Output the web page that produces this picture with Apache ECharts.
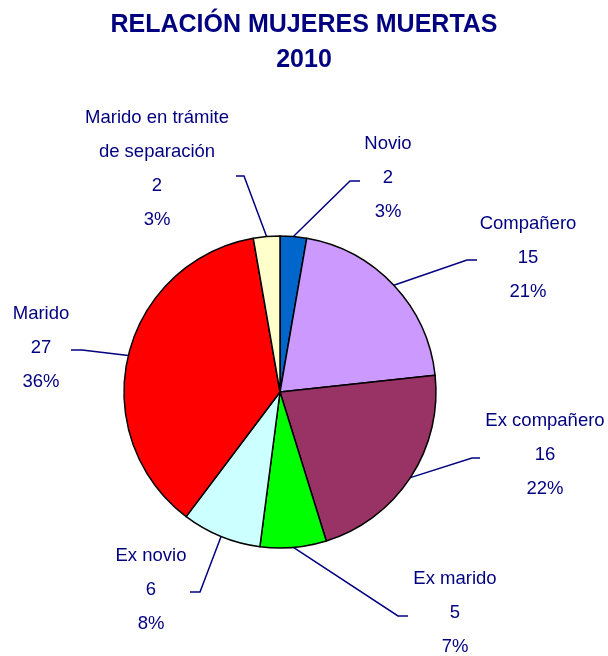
<!DOCTYPE html>
<html>
<head>
<meta charset="utf-8">
<script src="https://cdn.jsdelivr.net/npm/echarts@6/dist/echarts.min.js"></script>
<style>
  html, body { margin: 0; padding: 0; background: #fff; }
  #chart { width: 608px; height: 656px; }
</style>
</head>
<body>
<div id="chart"></div>
<script>
// relación con el agresor, 2010
const categorias = ['Novio', 'Compañero', 'Ex compañero', 'Ex marido', 'Ex novio', 'Marido', 'Marido en trámite\nde separación'];
const muertes = [2, 15, 16, 5, 6, 27, 2];
const porcentajes = [3, 21, 22, 7, 8, 36, 3];
const colores = ['#0066CC', '#CC99FF', '#993366', '#00FF00', '#CCFFFF', '#FF0000', '#FFFFCC'];

// posición de cada etiqueta: [x centro, y centro, codo x, codo y, fin x]
const anclas = [
  [388, 178, 350, 181, 360],
  [528, 258, 467, 260, 477],
  [545, 455, 472, 458, 480],
  [455, 613, 398, 616, 408],
  [151, 590, 200, 592, 190],
  [41, 348, 82, 350, 71],
  [157, 169, 244, 176, 236],
];

function renderChart() {
  const dom = document.getElementById('chart');
  const chart = echarts.init(dom);
  const font = "'Liberation Sans Narrow', 'Arial Narrow', 'Liberation Sans', sans-serif";
  const option = {
    animation: false,
    title: {
      text: 'RELACIÓN MUJERES MUERTAS\n2010',
      left: 'center',
      top: 3,
      textStyle: {
        color: '#000080',
        fontFamily: "'Liberation Sans', Arial, sans-serif",
        fontWeight: 'bold',
        fontSize: 25,
        lineHeight: 35,
      },
    },
    series: [
      {
        type: 'pie',
        center: [280, 392],
        radius: 156,
        startAngle: 90,
        clockwise: true,
        avoidLabelOverlap: false,
        data: categorias.map((c, i) => ({
          name: c,
          value: muertes[i],
          itemStyle: { color: colores[i] },
        })),
        itemStyle: {
          borderColor: '#000',
          borderWidth: 1.5,
        },
        label: {
          show: true,
          position: 'outside',
          color: '#000080',
          fontFamily: font,
          fontSize: 18.5,
          lineHeight: 34,
          align: 'center',
          formatter: (p) => `${p.name}\n${p.value}\n${porcentajes[p.dataIndex]}%`,
        },
        labelLine: {
          show: true,
          lineStyle: { color: '#000080', width: 1.5 },
        },
        labelLayout: (params) => {
          const a = anclas[params.dataIndex];
          const start = params.labelLinePoints ? params.labelLinePoints[0] : [a[2], a[3]];
          return {
            x: a[0],
            y: a[1],
            align: 'center',
            verticalAlign: 'middle',
            labelLinePoints: [start, [a[2], a[3]], [a[4], a[3]]],
          };
        },
        emphasis: { disabled: true },
      },
    ],
  };
  chart.setOption(option, true);
}

renderChart();
</script>
</body>
</html>
